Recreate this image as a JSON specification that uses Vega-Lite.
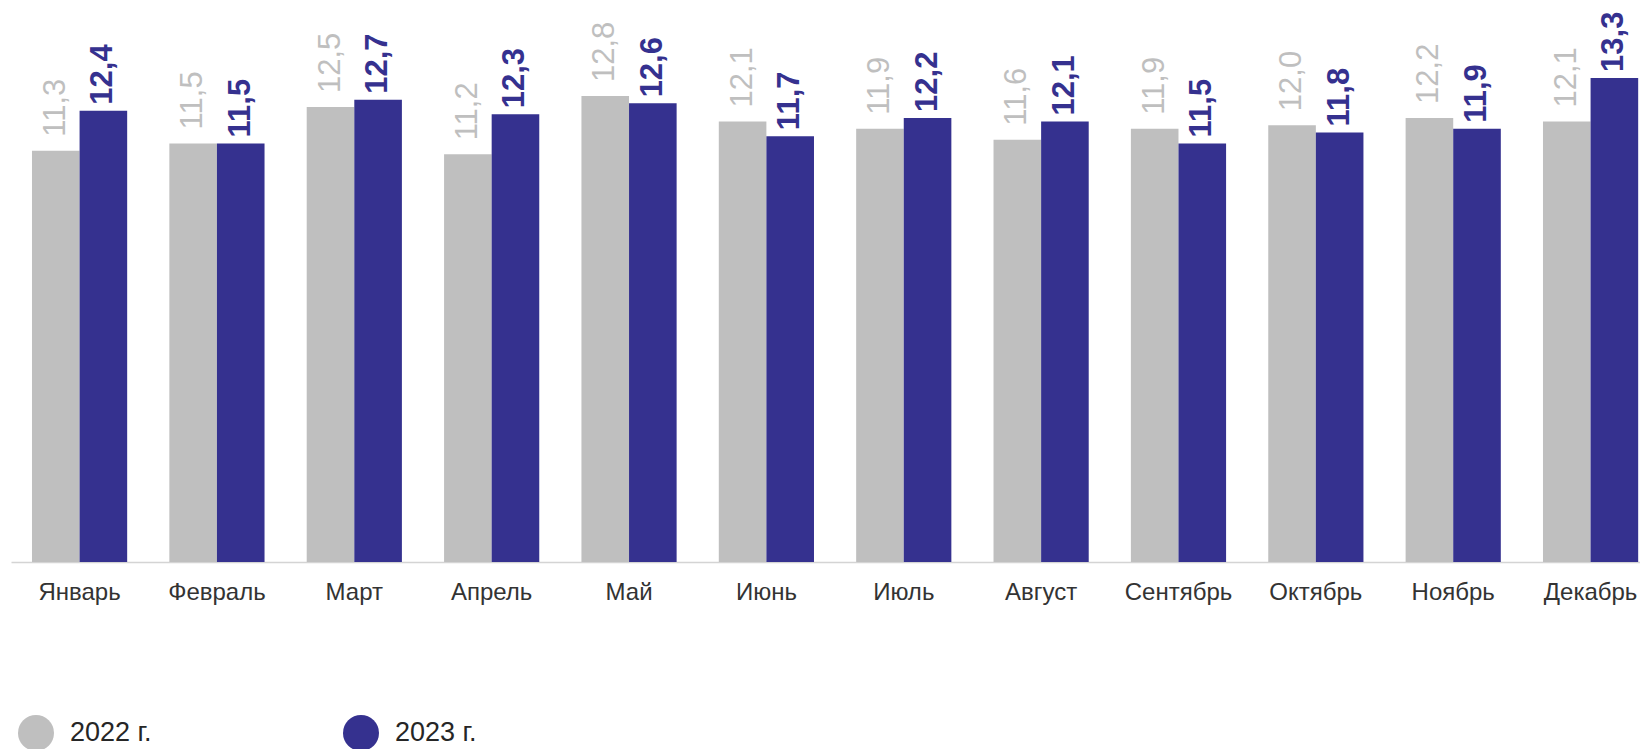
{
  "$schema": "https://vega.github.io/schema/vega-lite/v6.json",
  "autosize": {"type": "none"},
  "padding": {"left": 11, "top": 0, "right": 0, "bottom": 187},
  "width": 1629,
  "height": 562,
  "config": {
    "view": {"stroke": null},
    "font": "Liberation Sans",
    "locale": {"number": {"decimal": ",", "thousands": " ", "grouping": [3], "currency": ["", ""]}}
  },
  "data": {
    "values": [
      {"month": "Январь", "year": "2022 г.", "value": 11.3},
      {"month": "Январь", "year": "2023 г.", "value": 12.4},
      {"month": "Февраль", "year": "2022 г.", "value": 11.5},
      {"month": "Февраль", "year": "2023 г.", "value": 11.5},
      {"month": "Март", "year": "2022 г.", "value": 12.5},
      {"month": "Март", "year": "2023 г.", "value": 12.7},
      {"month": "Апрель", "year": "2022 г.", "value": 11.2},
      {"month": "Апрель", "year": "2023 г.", "value": 12.3},
      {"month": "Май", "year": "2022 г.", "value": 12.8},
      {"month": "Май", "year": "2023 г.", "value": 12.6},
      {"month": "Июнь", "year": "2022 г.", "value": 12.1},
      {"month": "Июнь", "year": "2023 г.", "value": 11.7},
      {"month": "Июль", "year": "2022 г.", "value": 11.9},
      {"month": "Июль", "year": "2023 г.", "value": 12.2},
      {"month": "Август", "year": "2022 г.", "value": 11.6},
      {"month": "Август", "year": "2023 г.", "value": 12.1},
      {"month": "Сентябрь", "year": "2022 г.", "value": 11.9},
      {"month": "Сентябрь", "year": "2023 г.", "value": 11.5},
      {"month": "Октябрь", "year": "2022 г.", "value": 12.0},
      {"month": "Октябрь", "year": "2023 г.", "value": 11.8},
      {"month": "Ноябрь", "year": "2022 г.", "value": 12.2},
      {"month": "Ноябрь", "year": "2023 г.", "value": 11.9},
      {"month": "Декабрь", "year": "2022 г.", "value": 12.1},
      {"month": "Декабрь", "year": "2023 г.", "value": 13.3}
    ]
  },
  "encoding": {
    "x": {
      "field": "month",
      "type": "nominal",
      "sort": null,
      "scale": {"paddingInner": 0.307, "paddingOuter": 0.083, "align": 0.92},
      "axis": {
        "title": null,
        "ticks": false,
        "labelAngle": 0,
        "labelFontSize": 24,
        "labelColor": "#333333",
        "labelPadding": 18,
        "labelBaseline": "top",
        "domainColor": "#d4d4d4",
        "domainWidth": 1.5,
        "grid": false
      }
    },
    "xOffset": {
      "field": "year",
      "type": "nominal",
      "scale": {"domain": ["2022 г.", "2023 г."], "paddingInner": 0, "paddingOuter": 0}
    },
    "y": {
      "field": "value",
      "type": "quantitative",
      "scale": {"domain": [0, 15.44], "nice": false, "zero": true},
      "axis": null
    }
  },
  "layer": [
    {
      "mark": {"type": "bar"},
      "encoding": {
        "color": {
          "field": "year",
          "type": "nominal",
          "scale": {"domain": ["2022 г.", "2023 г."], "range": ["#BFBFBF", "#35318F"]},
          "legend": {
            "title": null,
            "orient": "none",
            "legendX": 7,
            "legendY": 715,
            "direction": "horizontal",
            "padding": 0,
            "symbolType": "circle",
            "symbolSize": 1296,
            "symbolStrokeWidth": 0,
            "symbolOpacity": 1,
            "labelFontSize": 27,
            "labelColor": "#262626",
            "labelOffset": 16,
            "columnPadding": 191,
            "labelLimit": 300
          }
        }
      }
    },
    {
      "transform": [{"filter": "datum.year === '2022 г.'"}],
      "mark": {
        "type": "text",
        "angle": -90,
        "align": "left",
        "baseline": "middle",
        "dx": 14,
        "fontSize": 31,
        "color": "#BFBFBF"
      },
      "encoding": {
        "text": {"field": "value", "type": "quantitative", "format": ".1f"}
      }
    },
    {
      "transform": [{"filter": "datum.year === '2023 г.'"}],
      "mark": {
        "type": "text",
        "angle": -90,
        "align": "left",
        "baseline": "middle",
        "dx": 6,
        "fontSize": 31,
        "fontWeight": "bold",
        "color": "#35318F"
      },
      "encoding": {
        "text": {"field": "value", "type": "quantitative", "format": ".1f"}
      }
    }
  ]
}
